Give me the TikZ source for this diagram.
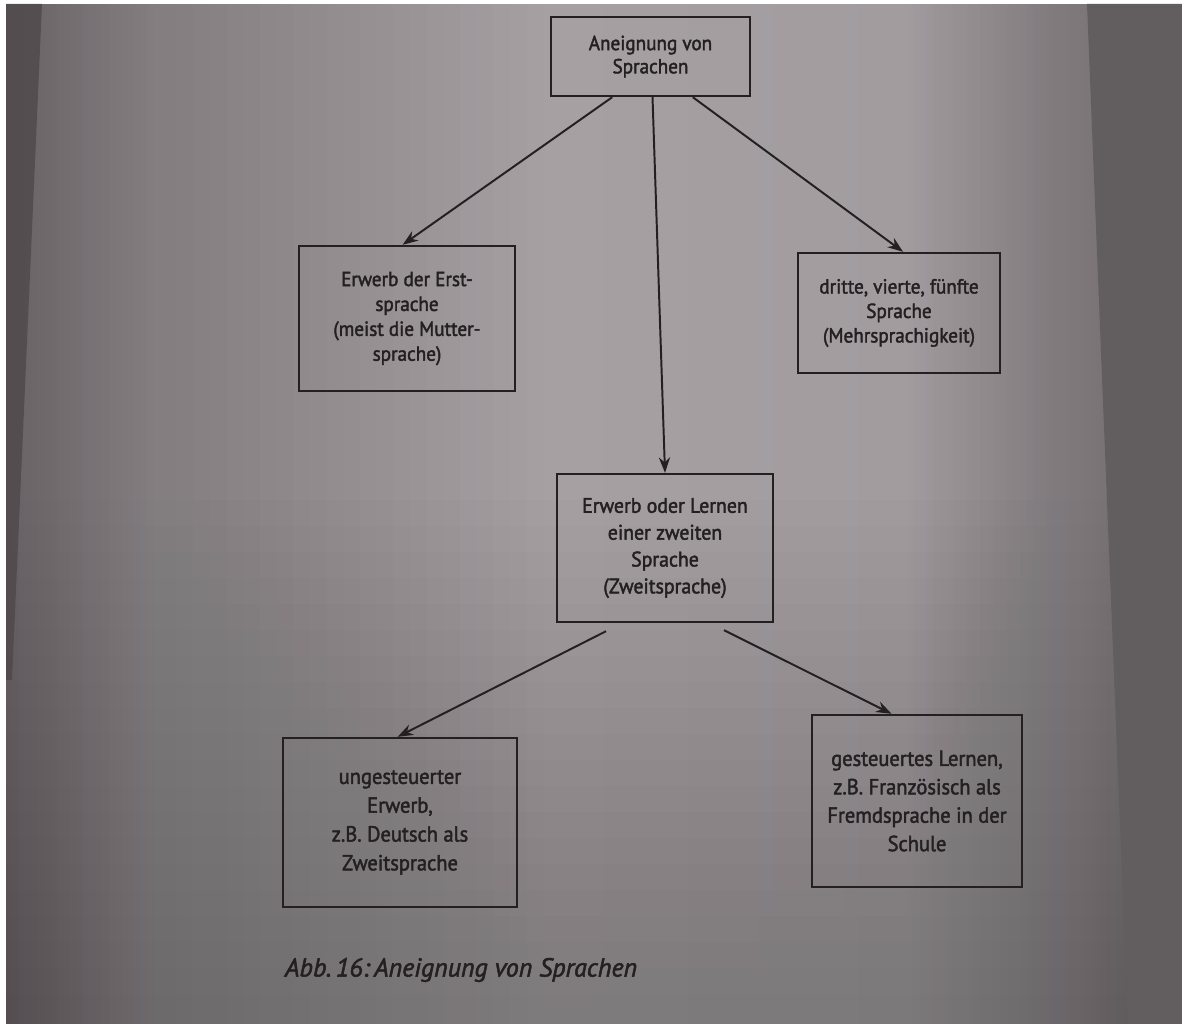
\documentclass[tikz,border=0pt]{standalone}
\usepackage{fontspec}
\setmainfont{PT Sans}
\newfontfamily\boxfont{PT Sans}[FakeBold=2, FakeStretch=0.94]
\newfontfamily\capfont{PT Sans}[FakeBold=2]
\usetikzlibrary{arrows.meta,calc}
\definecolor{ink}{RGB}{36,32,34}
\definecolor{pA}{RGB}{104,98,101}
\definecolor{pB}{RGB}{132,126,129}
\definecolor{pC}{RGB}{166,160,163}
\definecolor{pD}{RGB}{162,156,159}
\definecolor{pE}{RGB}{128,122,125}
\definecolor{pF}{RGB}{108,103,105}
\definecolor{backR}{RGB}{98,93,95}
\definecolor{shadowL}{RGB}{78,72,75}
\newcommand\hsegment[4]{%
  \foreach \k in {0,...,23}{%
    \pgfmathtruncatemacro\pp{round(100*\k/23)}%
    \pgfmathsetmacro\xa{#1+(#2-#1)*\k/24}%
    \pgfmathsetmacro\xb{#1+(#2-#1)*(\k+1)/24+0.6}%
    \fill[#4!\pp!#3] (\xa,4) rectangle (\xb,1024);
  }}
\begin{document}
\begin{tikzpicture}[x=0.025cm,y=-0.025cm,
  box/.style={draw=ink, line width=1.7pt, align=center, inner sep=0pt, text=ink},
  arr/.style={draw=ink, line width=1.4pt, -{Stealth[length=11pt,width=8pt]}}]
\useasboundingbox (0,0) rectangle (1182,1024);
% background (photographed page)
\fill[white] (0,0) rectangle (1182,1024);
\hsegment{6}{160}{pA}{pB}
\hsegment{160}{560}{pB}{pC}
\hsegment{560}{900}{pC}{pD}
\hsegment{900}{1060}{pD}{pE}
\hsegment{1060}{1182}{pE}{pF}
\foreach \k in {0,...,19}{
  \fill[black, opacity=0.0075] (6,{500+\k*26}) rectangle (1182,1024);
}
\fill[backR] (1087,4) -- (1182,4) -- (1182,1024) -- (1128,1024) -- cycle;
\fill[shadowL, opacity=0.8] (6,4) -- (42,4) -- (12,680) -- (6,680) -- cycle;
% boxes
\node[box, font=\boxfont\fontsize{14.5}{16.5}\selectfont,
      minimum width=199*0.025cm, minimum height=79*0.025cm] (top) at (650.5,56.5)
  {Aneignung von\\Sprachen};
\node[box, font=\boxfont\fontsize{14.5}{17.7}\selectfont,
      minimum width=216*0.025cm, minimum height=145*0.025cm] (erst) at (407,318.5)
  {Erwerb der Erst-\\sprache\\(meist die Mutter-\\sprache)};
\node[box, font=\boxfont\fontsize{14.5}{17.4}\selectfont,
      minimum width=202*0.025cm, minimum height=120*0.025cm] (mehr) at (899,313)
  {dritte, vierte, fünfte\\Sprache\\(Mehrsprachigkeit)};
\node[box, font=\boxfont\fontsize{15}{19.1}\selectfont,
      minimum width=216*0.025cm, minimum height=148*0.025cm] (zweit) at (665,548)
  {Erwerb oder Lernen\\einer zweiten\\Sprache\\(Zweitsprache)};
\node[box, font=\boxfont\fontsize{15.5}{20.5}\selectfont,
      minimum width=234*0.025cm, minimum height=169*0.025cm] (unge) at (400,822.5)
  {ungesteuerter\\Erwerb,\\z.B. Deutsch als\\Zweitsprache};
\node[box, font=\boxfont\fontsize{15.5}{20.2}\selectfont,
      minimum width=210*0.025cm, minimum height=172*0.025cm] (gest) at (917,801)
  {gesteuertes Lernen,\\z.B. Französisch als\\Fremdsprache in der\\Schule};
% arrows
\draw[arr] ($(top.south west)!0.31!(top.south east)$) -- ($(erst.north west)!0.48!(erst.north east)$);
\draw[arr] ($(top.south west)!0.51!(top.south east)$) -- (zweit.north);
\draw[arr] ($(top.south west)!0.71!(top.south east)$) -- ($(mehr.north west)!0.52!(mehr.north east)$);
\draw[arr] ($(zweit.south west)!0.23!(zweit.south east)+(0,8)$) -- ($(unge.north west)!0.49!(unge.north east)$);
\draw[arr] ($(zweit.south west)!0.77!(zweit.south east)+(0,7)$) -- ($(gest.north west)!0.38!(gest.north east)$);
% caption
\node[text=ink, anchor=west, font=\capfont\fontsize{18.5}{20}\selectfont\itshape] (cap) at (280,970)
  {Abb.\,16:\,Aneignung von Sprachen};
\end{tikzpicture}
\end{document}
